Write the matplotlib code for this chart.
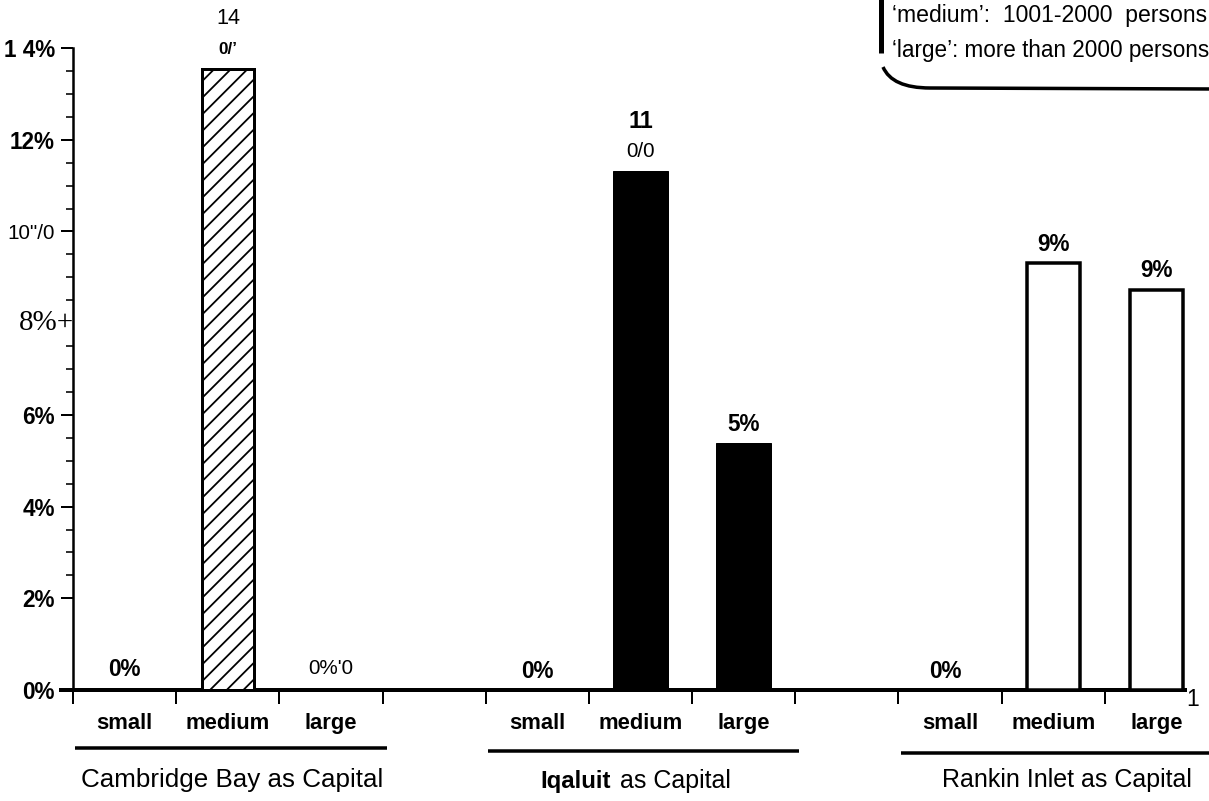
import matplotlib
matplotlib.use("Agg")
import matplotlib.pyplot as plt
from matplotlib import font_manager
from matplotlib.path import Path
from matplotlib.patches import PathPatch
from matplotlib.lines import Line2D
from matplotlib.ticker import FixedLocator
from matplotlib.transforms import blended_transform_factory

# ---- data -------------------------------------------------------------
group_titles = ["Cambridge Bay as Capital", "Iqaluit as Capital", "Rankin Inlet as Capital"]
sizes = ["small", "medium", "large"]
cambridge = [0.0, 13.55, 0.0]
iqaluit = [0.0, 11.32, 5.39]
rankin = [0.0, 9.31, 8.72]
y_ticks = [0, 2, 4, 6, 8, 10, 12, 14]
y_tick_labels = ["0%", "2%", "4%", "6%", "8%+", "10\"/0", "12%", "1 4%"]
legend_lines = ["\u2018medium\u2019:  1001-2000  persons",
                "\u2018large\u2019: more than 2000 persons"]

# ---- canvas (sizes below are given in pixels) -------------------------
W, H, DPI = 1209, 801, 150


def pt(px):
    return px * 72.0 / DPI


SANS = "Liberation Sans"
SERIF = "Liberation Serif"

# a narrow face for the condensed figures, if one is installed by name
_names = {f.name for f in font_manager.fontManager.ttflist}
NARROW = next((n for n in ("Liberation Sans Narrow", "Arial Narrow")
               if n in _names), SANS)
NARROW_SCALE = 1.0 if NARROW != SANS else 0.9

plt.rcParams["font.family"] = SANS
plt.rcParams["hatch.linewidth"] = pt(1.8)

fig = plt.figure(figsize=(W / DPI, H / DPI), dpi=DPI)
X0, X1, Y0, Y1 = 73, 1208, 690, 48
ax = fig.add_axes([X0 / W, 1 - Y0 / H, (X1 - X0) / W, (Y0 - Y1) / H])
ax.set_xlim(0, 11)
ax.set_ylim(0, 14)

values = [cambridge, iqaluit, rankin]
styles = [
    dict(facecolor="white", edgecolor="black", hatch="///", linewidth=pt(3)),
    dict(facecolor="black", edgecolor="black", linewidth=pt(1)),
    dict(facecolor="white", edgecolor="black", linewidth=pt(3.5)),
]
widths = [0.5, 0.53, 0.51]


def slot(g, i):
    return 4 * g + i + 0.5


for g, vals in enumerate(values):
    for i, v in enumerate(vals):
        if v > 0:
            ax.bar(slot(g, i), v, width=widths[g], zorder=3, **styles[g])

# ---- spines and ticks -------------------------------------------------
for s in ("top", "right"):
    ax.spines[s].set_visible(False)
ax.spines["left"].set_linewidth(pt(2.5))
ax.spines["bottom"].set_linewidth(pt(4))
ax.spines["bottom"].set_bounds(-0.12, 10.78)

ax.set_yticks(y_ticks)
ax.set_yticklabels([("" if "+" in t else t) for t in y_tick_labels])
minor_y = [m + k * 0.5 for m in y_ticks[1:-1] for k in (1, 2, 3)]
ax.yaxis.set_minor_locator(FixedLocator(minor_y))
ax.tick_params(axis="y", which="major", direction="out", length=pt(12),
               width=pt(2), pad=pt(6))
ax.tick_params(axis="y", which="minor", direction="out", length=pt(7),
               width=pt(1.6))

for tick, txt in zip(ax.yaxis.get_major_ticks(), y_tick_labels):
    lab = tick.label1
    if txt.startswith("10"):
        lab.set_fontfamily(NARROW)
        lab.set_fontsize(pt(23 * NARROW_SCALE))
    else:
        lab.set_fontweight("bold")
        lab.set_fontsize(pt(22.5))
    if "+" in txt:
        tick.tick1line.set_visible(False)
        ax.annotate(txt, xy=(0, y_ticks[y_tick_labels.index(txt)]),
                    xycoords=("axes fraction", "data"), xytext=(1, 0),
                    textcoords="offset pixels", ha="right", va="center",
                    fontfamily=SERIF, fontsize=pt(29), annotation_clip=False)

centers = [slot(g, i) for g in range(3) for i in range(3)]
ax.set_xticks(centers)
ax.set_xticklabels(sizes * 3, fontweight="bold", fontsize=pt(22))
ax.tick_params(axis="x", which="major", length=0, pad=pt(23))
bounds = [b for b in range(0, 12) if b <= 10.78]
ax.set_xticks(bounds, minor=True)
ax.tick_params(axis="x", which="minor", direction="out", length=pt(14),
               width=pt(2))

# ---- value labels -----------------------------------------------------


def put(g, i, text, lift, size, weight="bold", dx=0, family=SANS):
    ax.annotate(text, xy=(slot(g, i), values[g][i]), xytext=(dx, lift),
                textcoords="offset pixels", ha="center", va="center",
                fontfamily=family, fontweight=weight, fontsize=pt(size),
                annotation_clip=False, zorder=5)


N = NARROW_SCALE
put(0, 0, f"{cambridge[0]:.0f}%", 21, 22.5)
put(0, 1, f"{cambridge[1]:.0f}", 50, 24 * N, "normal", dx=1, family=NARROW)
put(0, 1, "0/\u2019", 19, 17)
put(0, 2, f"{cambridge[2]:.0f}%'0", 21, 23 * N, "normal", family=NARROW)
put(1, 0, f"{iqaluit[0]:.0f}%", 19, 22.5)
put(1, 1, f"{iqaluit[1]:.0f}", 49, 23.5)
put(1, 1, "0/0", 19, 23 * N, "normal", family=NARROW)
put(1, 2, f"{iqaluit[2]:.0f}%", 18, 22.5)
put(2, 0, f"{rankin[0]:.0f}%", 19, 22.5, dx=-5)
put(2, 1, f"{rankin[1]:.0f}%", 19, 22.5)
put(2, 2, f"{rankin[2]:.0f}%", 20, 22.5)

# ---- group underlines and titles -------------------------------------
bt = blended_transform_factory(ax.transData, fig.transFigure)
under_y = [748, 751, 753]
for g in range(3):
    ax.add_line(Line2D([4 * g + 0.02, 4 * g + 3.04 + (0.03 if g == 2 else 0)],
                       [1 - under_y[g] / H] * 2, transform=bt,
                       color="black", lw=pt(3.5), clip_on=False,
                       solid_capstyle="butt"))

ax.text(1.54, 1 - 787 / H, group_titles[0], transform=bt, ha="center",
        va="baseline", fontsize=pt(26))
first, rest = group_titles[1].split(" ", 1)
ax.text(5.21, 1 - 788 / H, first, transform=bt, ha="right", va="baseline",
        fontsize=pt(24), fontweight="bold")
ax.text(5.30, 1 - 788 / H, rest, transform=bt, ha="left", va="baseline",
        fontsize=pt(25))
ax.text(9.63, 1 - 787 / H, group_titles[2], transform=bt, ha="center",
        va="baseline", fontsize=pt(25))

fig.text(1193 / W, 1 - 700 / H, "1", ha="center", va="center",
         fontsize=pt(23))

# ---- size-class note box (top right) ---------------------------------


def fxy(x, y):
    return (x / W, 1 - y / H)


fig.add_artist(Line2D([880.5 / W] * 2, [1 + 5 / H, 1 - 53 / H],
                      transform=fig.transFigure, color="black", lw=pt(5),
                      solid_capstyle="butt"))
corner = Path([fxy(883, 67), fxy(892, 88), fxy(930, 88), fxy(1215, 89)],
              [Path.MOVETO, Path.CURVE3, Path.CURVE3, Path.LINETO])
fig.add_artist(PathPatch(corner, transform=fig.transFigure, fill=False,
                         edgecolor="black", lw=pt(3.5)))
fig.text(892 / W, 1 - 22 / H, legend_lines[0], ha="left", va="baseline",
         fontsize=pt(23))
fig.text(892 / W, 1 - 57 / H, legend_lines[1], ha="left", va="baseline",
         fontsize=pt(22.5))

fig.savefig("out.png", dpi=DPI)
